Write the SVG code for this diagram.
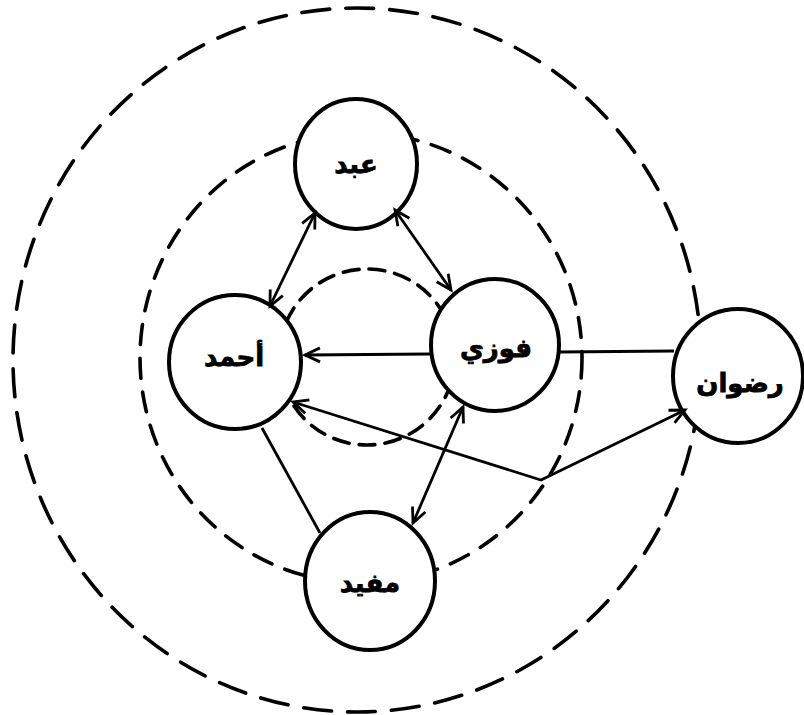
<svg xmlns="http://www.w3.org/2000/svg" width="804" height="715" viewBox="0 0 804 715">
<style>
.ring{fill:none;stroke:#000;stroke-width:3.6;stroke-linecap:round}
.node{fill:#fff;stroke:#000;stroke-width:4}
.lbl{font-family:"DejaVu Sans","Noto Sans",sans-serif;font-weight:bold;font-size:26px;text-anchor:middle;dominant-baseline:central;fill:#000;stroke:#000;stroke-width:0.8}
.edge{fill:none;stroke:#000;stroke-width:2.8}
.arr{marker-end:url(#ah)}
.arr2{marker-start:url(#ah);marker-end:url(#ah)}
</style>
<defs>
<marker id="ah" viewBox="-2 -10 20 20" refX="15" refY="0" markerWidth="20" markerHeight="20" markerUnits="userSpaceOnUse" orient="auto-start-reverse">
<path d="M0,-7 L15,0 L0,7" fill="none" stroke="#000" stroke-width="2.8"/>
</marker>
</defs>
<rect width="804" height="715" fill="#fff"/>
<g id="rings">
<ellipse class="ring" cx="357" cy="360" rx="344" ry="352" stroke-dasharray="28 16"/>
<ellipse class="ring" cx="361" cy="358" rx="221" ry="225" stroke-dasharray="20 14"/>
<circle class="ring" cx="367" cy="357" r="88" stroke-dasharray="16 10"/>
</g>
<g id="node-abd"><ellipse class="node" cx="356" cy="164" rx="61" ry="65"/><text class="lbl" x="356" y="164">عبد</text></g>
<g id="node-ahmad"><ellipse class="node" cx="235" cy="362" rx="66" ry="67"/><text class="lbl" x="234" y="357">أحمد</text></g>
<g id="node-fawzi"><ellipse class="node" cx="495" cy="345" rx="64" ry="66"/><text class="lbl" x="496" y="348">فوزي</text></g>
<g id="node-radwan"><ellipse class="node" cx="738" cy="376" rx="65" ry="67"/><text class="lbl" x="740" y="383">رضوان</text></g>
<g id="node-mufid"><ellipse class="node" cx="370" cy="581" rx="65" ry="69"/><text class="lbl" x="370" y="583">مفيد</text></g>
<g id="connectors">
<path class="edge arr2" d="M315,213 L270,306"/>
<path class="edge arr2" d="M395,210 L451,290"/>
<path class="edge arr" d="M430,354 L305,355"/>
<path class="edge" d="M559,352 L674,351"/>
<path class="edge arr2" d="M293,402 L541,480 L685,410"/>
<path class="edge arr2" d="M463,407 L413,523"/>
<path class="edge" d="M262,428 L320,533"/>
</g>
</svg>
